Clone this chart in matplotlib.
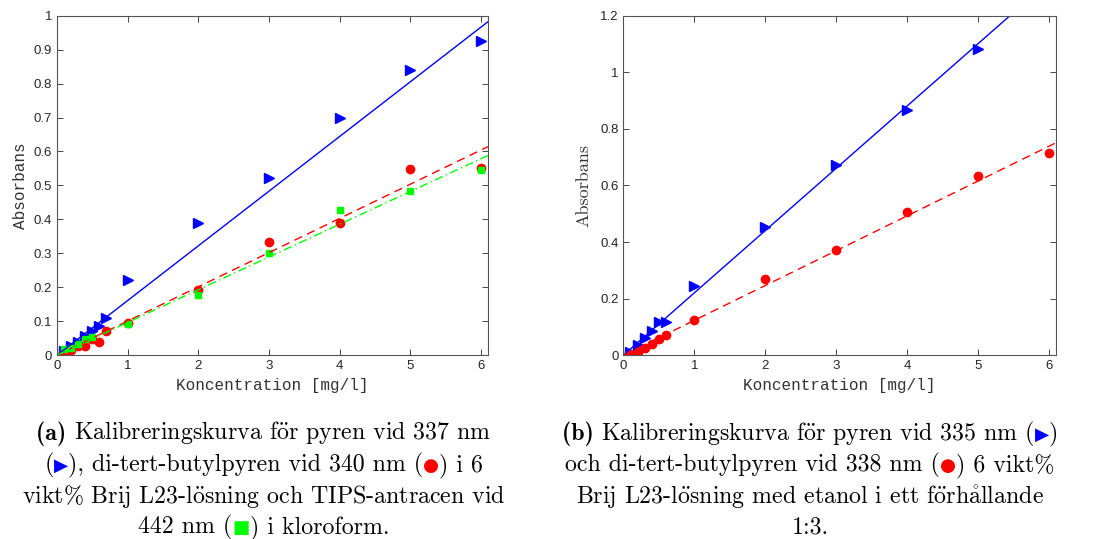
import numpy as np
import matplotlib
matplotlib.use("Agg")
import matplotlib.pyplot as plt
from matplotlib.offsetbox import TextArea, HPacker, AnchoredOffsetbox

# --- data, vänster figur (a) ---
a_pyren_x = [0.1, 0.2, 0.3, 0.4, 0.5, 0.6, 0.7, 1, 2, 3, 4, 5, 6]
a_pyren_y = [0.012, 0.026, 0.040, 0.057, 0.070, 0.087, 0.111, 0.220, 0.388, 0.523, 0.700, 0.840, 0.925]
a_dtb_x = [0.1, 0.2, 0.3, 0.4, 0.5, 0.6, 0.7, 1, 2, 3, 4, 5, 6]
a_dtb_y = [0.006, 0.016, 0.027, 0.028, 0.049, 0.038, 0.072, 0.094, 0.193, 0.333, 0.388, 0.548, 0.550]
a_tips_x = [0.1, 0.2, 0.3, 0.4, 0.5, 1, 2, 3, 4, 5, 6]
a_tips_y = [0.018, 0.022, 0.032, 0.048, 0.055, 0.093, 0.178, 0.302, 0.428, 0.485, 0.545]
# anpassade linjer (lutning, skärning)
a_fit_k = [0.161, 0.1007, 0.0964]
a_fit_m = [0.0, 0.0, 0.0]

# --- data, höger figur (b) ---
b_pyren_x = [0.1, 0.2, 0.3, 0.4, 0.5, 0.6, 1, 2, 3, 4, 5]
b_pyren_y = [0.013, 0.036, 0.062, 0.084, 0.119, 0.119, 0.246, 0.453, 0.672, 0.867, 1.081]
b_dtb_x = [0.1, 0.2, 0.3, 0.4, 0.5, 0.6, 1, 2, 3, 4, 5, 6]
b_dtb_y = [0.004, 0.013, 0.027, 0.041, 0.057, 0.072, 0.124, 0.269, 0.372, 0.506, 0.634, 0.713]
b_fit_k = [0.220, 0.123]
b_fit_m = [0.0, 0.0]

BLUE, RED, GREEN = "#0000ff", "#ff0000", "#00ff00"
GRAY = "#262626"
SERIF = ["cmr10", "DejaVu Serif"]
MONO = "Liberation Mono"

plt.rcParams["axes.unicode_minus"] = False
plt.rcParams["mathtext.fontset"] = "cm"

# cmr10 saknar ö och å -> accent via mathtext
OE = r"$\ddot{\mathrm{o}}$"
AA = r"$\mathring{\mathrm{a}}$"


def style_axes(ax, ymax, ystep):
    ax.set_xlim(0, 6.1)
    ax.set_ylim(0, ymax)
    ax.set_xticks(range(0, 7))
    yt = np.round(np.arange(0, ymax + 1e-9, ystep), 2)
    ax.set_yticks(yt)
    ax.set_yticklabels([f"{v:g}" for v in yt])
    ax.tick_params(direction="in", top=True, right=True, length=4, width=0.6,
                   colors=GRAY, labelsize=9.5, labelfontfamily="Liberation Sans")
    for s in ax.spines.values():
        s.set_color("#555555")
        s.set_linewidth(0.8)
    ax.set_xlabel("Koncentration [mg/l]", family=MONO, fontsize=11.5, color="#333333", labelpad=4)


fig = plt.figure(figsize=(11.07, 5.39), dpi=100)
ax1 = fig.add_axes([0.0515, 0.341, 0.3893, 0.630])
ax2 = fig.add_axes([0.5631, 0.341, 0.3906, 0.630])

xx = np.array([0, 6.1])

# (a)
ax1.plot(a_pyren_x, a_pyren_y, ">", color=BLUE, ms=6.5, mec=BLUE)
ax1.plot(a_dtb_x, a_dtb_y, "o", color=RED, ms=6, mec=RED)
ax1.plot(a_tips_x, a_tips_y, "s", color=GREEN, ms=4.5, mec=GREEN)
ax1.plot(xx, a_fit_k[0] * xx + a_fit_m[0], "-", color=BLUE, lw=1)
ax1.plot(xx, a_fit_k[1] * xx + a_fit_m[1], "--", color=RED, lw=1, dashes=(6, 4))
ax1.plot(xx, a_fit_k[2] * xx + a_fit_m[2], "-.", color=GREEN, lw=1, dashes=(6, 2.5, 1, 2.5))
style_axes(ax1, 1.0, 0.1)
ax1.set_ylabel("Absorbans", family=MONO, fontsize=11.5, color="#333333", labelpad=4)

# (b)
ax2.plot(b_pyren_x, b_pyren_y, ">", color=BLUE, ms=6.5, mec=BLUE)
ax2.plot(b_dtb_x, b_dtb_y, "o", color=RED, ms=6, mec=RED)
ax2.plot(xx, b_fit_k[0] * xx + b_fit_m[0], "-", color=BLUE, lw=1)
ax2.plot(xx, b_fit_k[1] * xx + b_fit_m[1], "--", color=RED, lw=1, dashes=(6, 4))
style_axes(ax2, 1.2, 0.2)
ax2.set_ylabel("Absorbans", family=SERIF, fontsize=13, color="#333333", labelpad=6)


# --- bildtexter med färgade symboler ---
CAP = 17.2
LINE_Y = [433, 465, 497, 527]


def piece(s, color="black", bold=False):
    fam = ["cmb10", "DejaVu Serif"] if bold else SERIF
    return TextArea(s, textprops=dict(family=fam, fontsize=CAP, color=color))


def sym(ch, color):
    return TextArea(ch, textprops=dict(family="DejaVu Sans", fontsize=CAP - 4, color=color))


def caption(lines, xc):
    for parts, y in zip(lines, LINE_Y):
        row = HPacker(children=parts, pad=0, sep=0, align="baseline")
        ab = AnchoredOffsetbox(loc="center", child=row, frameon=False,
                               bbox_to_anchor=(xc / 1107, 1 - y / 539),
                               bbox_transform=fig.transFigure, borderpad=0, pad=0)
        fig.add_artist(ab)


caption([
    [piece("(a) ", bold=True), piece("Kalibreringskurva f" + OE + "r pyren vid 337 nm")],
    [piece("("), sym("▶", BLUE), piece("), di-tert-butylpyren vid 340 nm ("), sym("●", RED), piece(") i 6")],
    [piece("vikt% Brij L23-l" + OE + "sning och TIPS-antracen vid")],
    [piece("442 nm ("), sym("■", GREEN), piece(") i kloroform.")],
], 264)

caption([
    [piece("(b) ", bold=True), piece("Kalibreringskurva f" + OE + "r pyren vid 335 nm ("), sym("▶", BLUE), piece(")")],
    [piece("och di-tert-butylpyren vid 338 nm ("), sym("●", RED), piece(") 6 vikt%")],
    [piece("Brij L23-l" + OE + "sning med etanol i ett f" + OE + "rh" + AA + "llande")],
    [piece("1:3.")],
], 810)

fig.savefig("out.png", dpi=100)
